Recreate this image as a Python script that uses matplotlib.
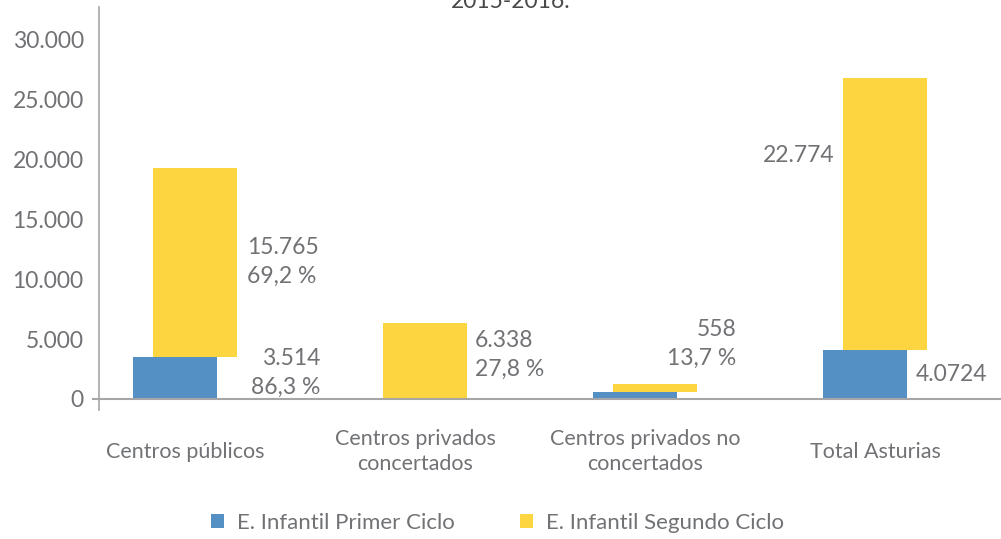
import matplotlib.pyplot as plt

# Alumnado de Educación Infantil por titularidad del centro, curso 2015-2016
categorias = ['Centros públicos', 'Centros privados\nconcertados',
              'Centros privados no\nconcertados', 'Total Asturias']
primer_ciclo = [3514, 0, 558, 4072]
segundo_ciclo = [15765, 6338, 671, 22774]
serie_nombres = ['E. Infantil Primer Ciclo', 'E. Infantil Segundo Ciclo']
y_ticks = [0, 5000, 10000, 15000, 20000, 25000, 30000]

AZUL = '#5590c4'
AMARILLO = '#fdd540'
GRIS_TXT = '#707275'
GRIS_EJE = '#a6a6a6'
FUENTE = 'Lato'

plt.rcParams['font.family'] = [FUENTE, 'DejaVu Sans']


def miles(v):
    return f'{v:,}'.replace(',', '.')


def pct(v, total):
    return f'{100 * v / total:.1f} %'.replace('.', ',')


fig = plt.figure(figsize=(10.01, 5.39), dpi=100)
ax = fig.add_axes([99 / 1001, 129 / 539, 902 / 1001, 403 / 539])

x = list(range(len(categorias)))
ax.bar([i - 0.043 for i in x], primer_ciclo, width=0.365, color=AZUL,
       label=serie_nombres[0], zorder=2)
ax.bar([i + 0.045 for i in x], segundo_ciclo, width=0.365, bottom=primer_ciclo,
       color=AMARILLO, label=serie_nombres[1], zorder=2)

ax.set_xlim(-0.374, 3.548)
ax.set_ylim(-920, 32750)
ax.set_yticks(y_ticks)
ax.set_yticklabels([miles(t) for t in y_ticks])
ax.tick_params(axis='y', length=0, pad=11, labelsize=16.5, labelcolor=GRIS_TXT)
ax.set_xticks([])

for s in ['top', 'right', 'bottom']:
    ax.spines[s].set_visible(False)
ax.spines['left'].set_color(GRIS_EJE)
ax.spines['left'].set_linewidth(1.2)
ax.axhline(0, xmin=-0.007, xmax=1, color=GRIS_EJE, lw=1.5, clip_on=False, zorder=3)

# etiquetas de categoría bajo el eje
for i, c in enumerate(categorias):
    ax.text(i, -4400, c, ha='center', va='center', fontsize=15.5,
            color=GRIS_TXT, linespacing=1.35)

tot1 = primer_ciclo[-1]
tot2 = segundo_ciclo[-1]
kw = dict(fontsize=16.5, color=GRIS_TXT, va='center', linespacing=1.45)
ax.text(0.27, 11445, f'{miles(segundo_ciclo[0])}\n{pct(segundo_ciclo[0], tot2)}', ha='left', **kw)
ax.text(0.587, 2172, f'{miles(primer_ciclo[0])}\n{pct(primer_ciclo[0], tot1)}', ha='right', **kw)
ax.text(1.26, 3700, f'{miles(segundo_ciclo[1])}\n{pct(segundo_ciclo[1], tot2)}', ha='left', **kw)
ax.text(2.396, 4595, f'{miles(primer_ciclo[2])}\n{pct(primer_ciclo[2], tot1)}', ha='right', **kw)
ax.text(2.826, 20384, miles(tot2), ha='right', **kw)
ax.text(3.178, 2005, '4.0724', ha='left', **kw)

# título (recortado en la parte superior)
fig.text(0.51, 1.022, 'Alumnado de Educación Infantil. Curso\n2015-2016.', ha='center',
         va='center', fontsize=16.5, color='#4a4a4a', linespacing=1.3)

leg = fig.legend(loc='center', bbox_to_anchor=(0.497, 16 / 539),
                 ncol=2, frameon=False, fontsize=16, handlelength=0.6,
                 handleheight=0.6, handletextpad=0.6, columnspacing=2.9)
for t in leg.get_texts():
    t.set_color(GRIS_TXT)

fig.savefig('out.png', dpi=100)
